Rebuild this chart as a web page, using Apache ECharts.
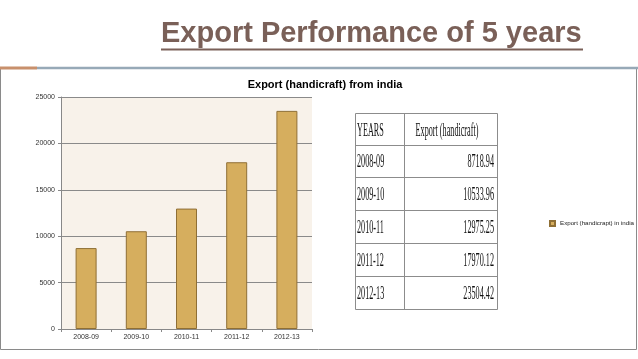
<!DOCTYPE html>
<html>
<head>
<meta charset="utf-8">
<script src="https://cdn.jsdelivr.net/npm/echarts@6/dist/echarts.min.js"></script>
<style>
html,body{margin:0;padding:0;background:#fff;}
#c{width:638px;height:359px;}
</style>
</head>
<body>
<div id="c"></div>
<script>
var categories = ['2008-09', '2009-10', '2010-11', '2011-12', '2012-13'];
var values = [8718.94, 10533.96, 12975.25, 17970.12, 23504.42];
var valueLabels = ['8718.94', '10533.96', '12975.25', '17970.12', '23504.42'];
var seriesName = 'Export (handicrapt) in india';
var slideTitle = 'Export Performance of 5 years';
var chartTitle = 'Export (handicraft) from india';
var tableHeaders = ['YEARS', 'Export (handicraft)'];

var chart = echarts.init(document.getElementById('c'), null, {renderer: 'canvas'});

// table graphics
var tX0 = 355.5, tX1 = 404.5, tX2 = 497.5;
var rowTops = [113.5, 145.5, 177.5, 210.5, 243.5, 276.5, 309.5];
var tableEls = [];
var lineStyle = {stroke: '#8c8c8c', lineWidth: 1};
rowTops.forEach(function (y) {
  tableEls.push({type: 'line', shape: {x1: tX0, y1: y, x2: tX2, y2: y}, style: lineStyle});
});
[tX0, tX1, tX2].forEach(function (x) {
  tableEls.push({type: 'line', shape: {x1: x, y1: rowTops[0], x2: x, y2: rowTops[rowTops.length - 1]}, style: lineStyle});
});
var tFont = '19px "Liberation Serif", "Times New Roman", serif';
var sx = 0.43;
function cellText(txt, x, y, align) {
  return {type: 'text', x: x, y: y, scaleX: sx, style: {text: txt, font: tFont, fill: '#111', align: align, verticalAlign: 'middle'}};
}
tableEls.push(cellText(tableHeaders[0], 357, 131, 'left'));
tableEls.push(cellText(tableHeaders[1], 447, 131, 'center'));
categories.forEach(function (c, i) {
  var yc = (rowTops[i + 1] + rowTops[i + 2]) / 2 + 1;
  tableEls.push(cellText(c, 357, yc, 'left'));
  tableEls.push(cellText(valueLabels[i], 494, yc, 'right'));
});

var option = {
  backgroundColor: '#ffffff',
  animation: false,
  title: {
    text: chartTitle,
    left: 320, top: 74, textAlign: 'center',
    textStyle: {fontFamily: 'Liberation Sans, Arial, sans-serif', fontSize: 11, fontWeight: 'bold', color: '#000'}
  },
  legend: {
    left: 544, top: 215,
    itemWidth: 5, itemHeight: 5, icon: 'rect',
    textStyle: {fontFamily: 'Liberation Sans, Arial, sans-serif', fontSize: 6.2, color: '#222'},
    data: [seriesName]
  },
  grid: {
    left: 61, top: 97, width: 251, height: 232,
    show: true, backgroundColor: '#f8f2ea', borderWidth: 0
  },
  xAxis: {
    type: 'category', data: categories,
    axisLine: {show: true, lineStyle: {color: '#888', width: 1}},
    axisTick: {show: true, length: 3, lineStyle: {color: '#888'}},
    axisLabel: {fontFamily: 'Liberation Sans, Arial, sans-serif', fontSize: 7, color: '#333', margin: 5}
  },
  yAxis: {
    type: 'value', min: 0, max: 25000, interval: 5000,
    axisLine: {show: true, lineStyle: {color: '#888', width: 1}},
    axisTick: {show: true, length: 3, lineStyle: {color: '#888'}},
    splitLine: {show: true, lineStyle: {color: '#8a8a8a', width: 1}},
    axisLabel: {fontFamily: 'Liberation Sans, Arial, sans-serif', fontSize: 7, color: '#333', margin: 6,
      formatter: function (v) { return String(v); }}
  },
  series: [{
    name: seriesName, type: 'bar', data: values, barWidth: 21,
    itemStyle: {color: '#d6ae5e', borderColor: '#8f6f35', borderWidth: 1}
  }],
  graphic: [
    {type: 'rect', shape: {x: 0.5, y: 68.5, width: 636, height: 281}, style: {fill: 'none', stroke: '#8a8a8a', lineWidth: 1}, z: -1},
    {type: 'line', shape: {x1: 37, y1: 68, x2: 638, y2: 68}, style: {stroke: '#97a9b7', lineWidth: 2.5}},
    {type: 'line', shape: {x1: 0, y1: 68, x2: 37, y2: 68}, style: {stroke: '#c8906c', lineWidth: 3}},
    {type: 'text', x: 161, y: 34, style: {text: slideTitle, font: 'bold 29px "Liberation Sans", Arial, sans-serif', fill: '#7a6058', align: 'left', verticalAlign: 'middle'}},
    {type: 'line', shape: {x1: 161, y1: 49.5, x2: 583, y2: 49.5}, style: {stroke: '#7a6058', lineWidth: 2}},
    {type: 'group', children: tableEls}
  ]
};
chart.setOption(option);
</script>
</body>
</html>
